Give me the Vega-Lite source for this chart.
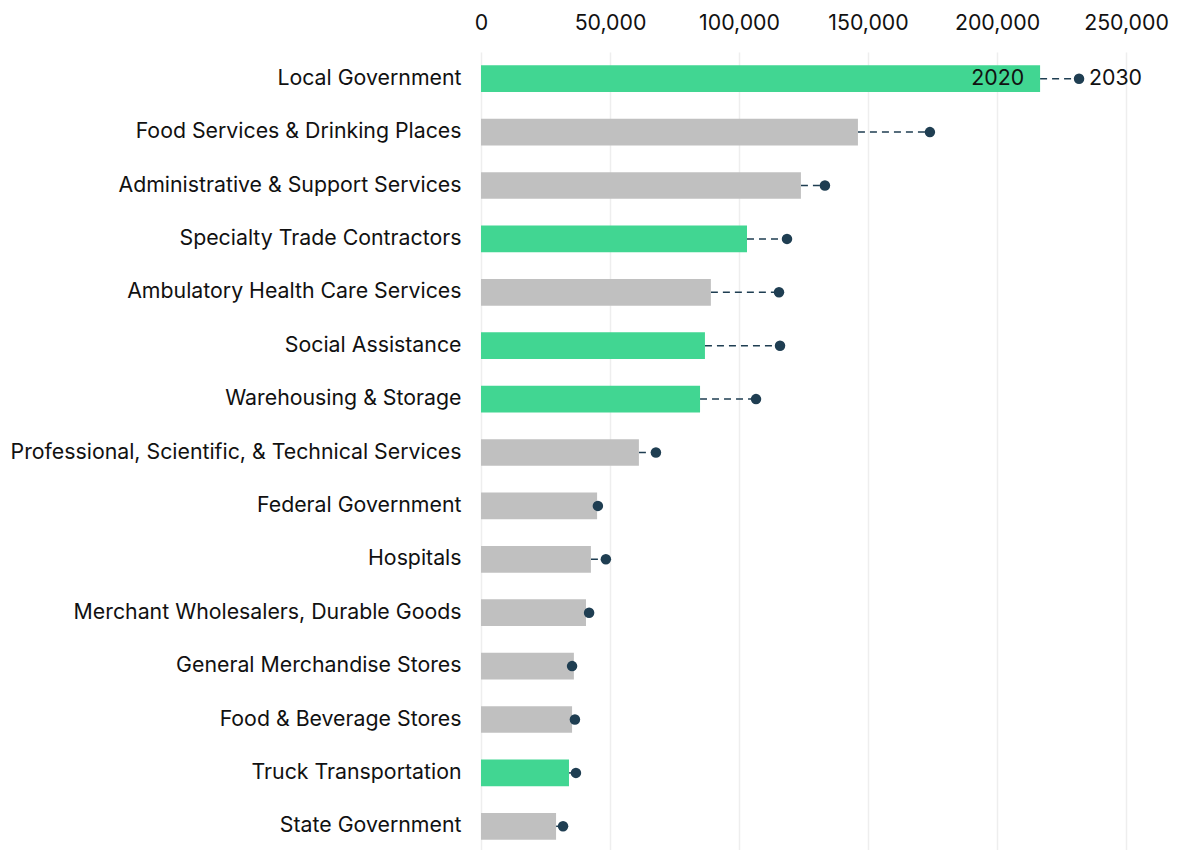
{
  "$schema": "https://vega.github.io/schema/vega-lite/v6.json",
  "width": 645,
  "height": 801,
  "autosize": "none",
  "padding": {"left": 481, "top": 52, "right": 52, "bottom": 0},
  "background": "white",
  "config": {
    "view": {"stroke": null},
    "font": "Inter",
    "axis": {"labelFont": "Inter", "labelColor": "#111111", "labelFontSize": 21.3, "domain": false, "ticks": false, "title": null}
  },
  "data": {
    "values": [
      {"industry": "Local Government", "y2020": 216700, "y2030": 231800, "highlight": "yes"},
      {"industry": "Food Services & Drinking Places", "y2020": 146100, "y2030": 174000, "highlight": "no"},
      {"industry": "Administrative & Support Services", "y2020": 124000, "y2030": 133300, "highlight": "no"},
      {"industry": "Specialty Trade Contractors", "y2020": 103100, "y2030": 118600, "highlight": "yes"},
      {"industry": "Ambulatory Health Care Services", "y2020": 89100, "y2030": 115500, "highlight": "no"},
      {"industry": "Social Assistance", "y2020": 86800, "y2030": 115900, "highlight": "yes"},
      {"industry": "Warehousing & Storage", "y2020": 84900, "y2030": 106600, "highlight": "yes"},
      {"industry": "Professional, Scientific, & Technical Services", "y2020": 61200, "y2030": 67800, "highlight": "no"},
      {"industry": "Federal Government", "y2020": 45000, "y2030": 45300, "highlight": "no"},
      {"industry": "Hospitals", "y2020": 42600, "y2030": 48400, "highlight": "no"},
      {"industry": "Merchant Wholesalers, Durable Goods", "y2020": 40700, "y2030": 41900, "highlight": "no"},
      {"industry": "General Merchandise Stores", "y2020": 36000, "y2030": 35300, "highlight": "no"},
      {"industry": "Food & Beverage Stores", "y2020": 35300, "y2030": 36400, "highlight": "no"},
      {"industry": "Truck Transportation", "y2020": 34100, "y2030": 36800, "highlight": "yes"},
      {"industry": "State Government", "y2020": 29100, "y2030": 31800, "highlight": "no"}
    ]
  },
  "encoding": {
    "y": {
      "field": "industry",
      "type": "nominal",
      "sort": null,
      "scale": {"paddingInner": 0.5, "paddingOuter": 0.25},
      "axis": {"labelPadding": 20, "labelLimit": 0}
    },
    "x": {
      "field": "y2020",
      "type": "quantitative",
      "scale": {"domain": [0, 250000], "nice": false},
      "axis": {"orient": "top", "values": [0, 50000, 100000, 150000, 200000, 250000], "format": ",d", "grid": true, "gridColor": "#eeeeee", "gridWidth": 1.5, "labelPadding": 19, "labelFlush": false, "labelOverlap": false}
    }
  },
  "layer": [
    {
      "mark": {"type": "rule", "strokeDash": [7, 5], "strokeWidth": 1.5, "color": "#1f3e52"},
      "encoding": {"x2": {"field": "y2030"}}
    },
    {
      "mark": {"type": "bar"},
      "encoding": {
        "color": {"field": "highlight", "type": "nominal", "scale": {"domain": ["yes", "no"], "range": ["#41d692", "#c0c0c0"]}, "legend": null}
      }
    },
    {
      "mark": {"type": "circle", "size": 110, "opacity": 1, "color": "#1f3e52"},
      "encoding": {"x": {"field": "y2030", "type": "quantitative"}}
    },
    {
      "transform": [{"filter": "datum.industry === 'Local Government'"}],
      "mark": {"type": "text", "align": "right", "baseline": "middle", "dx": -16, "fontSize": 21.3, "color": "#111111"},
      "encoding": {"text": {"value": "2020"}}
    },
    {
      "transform": [{"filter": "datum.industry === 'Local Government'"}],
      "mark": {"type": "text", "align": "left", "baseline": "middle", "dx": 10, "fontSize": 21.3, "color": "#111111"},
      "encoding": {"x": {"field": "y2030", "type": "quantitative"}, "text": {"value": "2030"}}
    }
  ]
}
